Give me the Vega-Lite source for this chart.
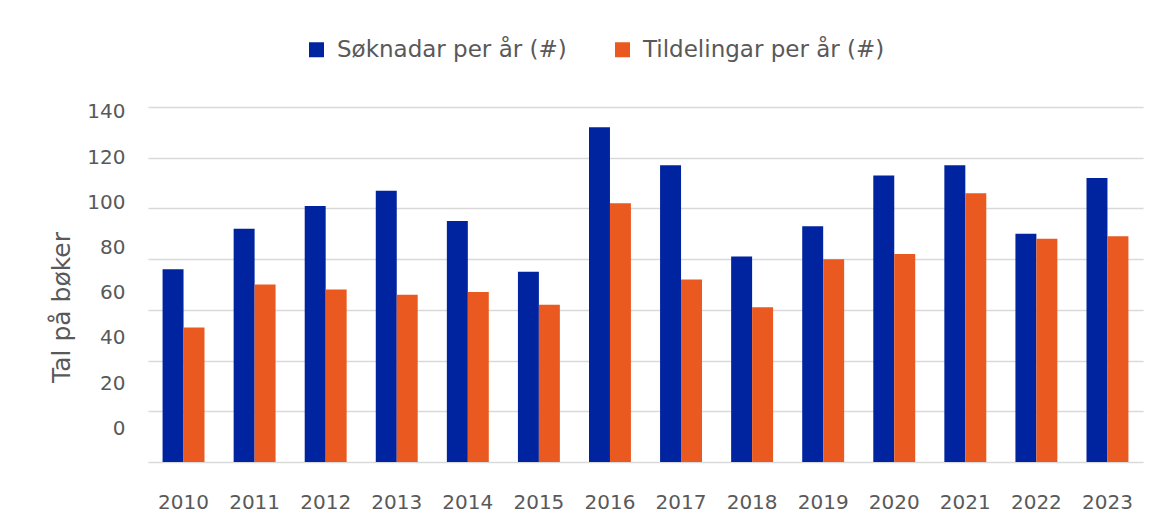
{
  "$schema": "https://vega.github.io/schema/vega-lite/v6.json",
  "autosize": "none",
  "width": 995,
  "height": 355,
  "padding": {"left": 148, "top": 107, "right": 18, "bottom": 64},
  "background": "white",
  "data": {
    "values": [
      {"year": "2010", "serie": "Søknadar per år (#)", "value": 76},
      {"year": "2010", "serie": "Tildelingar per år (#)", "value": 53},
      {"year": "2011", "serie": "Søknadar per år (#)", "value": 92},
      {"year": "2011", "serie": "Tildelingar per år (#)", "value": 70},
      {"year": "2012", "serie": "Søknadar per år (#)", "value": 101},
      {"year": "2012", "serie": "Tildelingar per år (#)", "value": 68},
      {"year": "2013", "serie": "Søknadar per år (#)", "value": 107},
      {"year": "2013", "serie": "Tildelingar per år (#)", "value": 66},
      {"year": "2014", "serie": "Søknadar per år (#)", "value": 95},
      {"year": "2014", "serie": "Tildelingar per år (#)", "value": 67},
      {"year": "2015", "serie": "Søknadar per år (#)", "value": 75},
      {"year": "2015", "serie": "Tildelingar per år (#)", "value": 62},
      {"year": "2016", "serie": "Søknadar per år (#)", "value": 132},
      {"year": "2016", "serie": "Tildelingar per år (#)", "value": 102},
      {"year": "2017", "serie": "Søknadar per år (#)", "value": 117},
      {"year": "2017", "serie": "Tildelingar per år (#)", "value": 72},
      {"year": "2018", "serie": "Søknadar per år (#)", "value": 81},
      {"year": "2018", "serie": "Tildelingar per år (#)", "value": 61},
      {"year": "2019", "serie": "Søknadar per år (#)", "value": 93},
      {"year": "2019", "serie": "Tildelingar per år (#)", "value": 80},
      {"year": "2020", "serie": "Søknadar per år (#)", "value": 113},
      {"year": "2020", "serie": "Tildelingar per år (#)", "value": 82},
      {"year": "2021", "serie": "Søknadar per år (#)", "value": 117},
      {"year": "2021", "serie": "Tildelingar per år (#)", "value": 106},
      {"year": "2022", "serie": "Søknadar per år (#)", "value": 90},
      {"year": "2022", "serie": "Tildelingar per år (#)", "value": 88},
      {"year": "2023", "serie": "Søknadar per år (#)", "value": 112},
      {"year": "2023", "serie": "Tildelingar per år (#)", "value": 89}
    ]
  },
  "mark": {"type": "bar"},
  "encoding": {
    "x": {
      "field": "year",
      "type": "nominal",
      "scale": {"paddingInner": 0.41, "paddingOuter": 0.205},
      "axis": {
        "title": null,
        "labelAngle": 0,
        "domain": false,
        "ticks": false,
        "tickSize": 0,
        "labelPadding": 30,
        "labelBaseline": "top",
        "labelFont": "DejaVu Sans",
        "labelFontSize": 20,
        "labelColor": "#595959"
      }
    },
    "xOffset": {
      "field": "serie",
      "type": "nominal",
      "scale": {"domain": ["Søknadar per år (#)", "Tildelingar per år (#)"], "paddingInner": 0, "paddingOuter": 0}
    },
    "y": {
      "field": "value",
      "type": "quantitative",
      "scale": {"domain": [0, 140], "nice": false},
      "axis": {
        "title": "Tal på bøker",
        "titleFont": "DejaVu Sans",
        "titleFontSize": 25,
        "titleFontWeight": "normal",
        "titleColor": "#595959",
        "titleX": -87,
        "titleY": 200,
        "titleAngle": 270,
        "titleAlign": "center",
        "titleBaseline": "middle",
        "values": [0, 20, 40, 60, 80, 100, 120, 140],
        "domain": false,
        "ticks": false,
        "tickSize": 0,
        "labelPadding": 23,
        "labelOffset": {"expr": "-33.7 + datum.value * 0.2764"},
        "labelFont": "DejaVu Sans",
        "labelFontSize": 20,
        "labelColor": "#595959",
        "grid": true,
        "gridColor": "#d9d9d9",
        "gridWidth": 1.7
      }
    },
    "color": {
      "field": "serie",
      "type": "nominal",
      "scale": {
        "domain": ["Søknadar per år (#)", "Tildelingar per år (#)"],
        "range": ["#0023a0", "#ea5a20"]
      },
      "legend": {
        "title": null,
        "orient": "none",
        "direction": "horizontal",
        "legendX": 157,
        "legendY": -69,
        "symbolType": "square",
        "symbolSize": 225,
        "symbolStrokeWidth": 0,
        "symbolOpacity": 1,
        "labelOffset": 9,
        "columnPadding": 44,
        "labelFont": "DejaVu Sans",
        "labelFontSize": 23,
        "labelColor": "#595959",
        "labelLimit": 400
      }
    }
  },
  "config": {
    "view": {"stroke": null}
  }
}
